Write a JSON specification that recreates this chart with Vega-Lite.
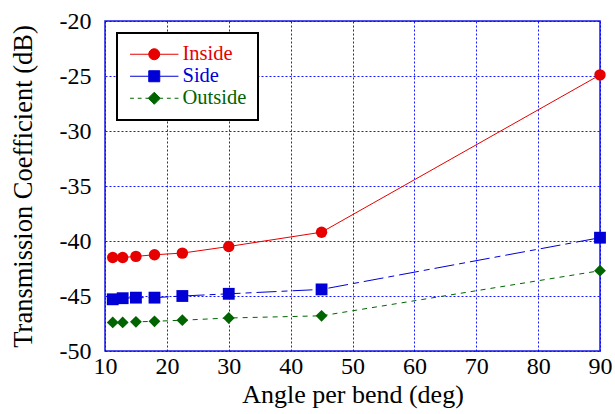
{
  "$schema": "https://vega.github.io/schema/vega-lite/v6.json",
  "width": 495,
  "height": 330,
  "autosize": {"type": "none"},
  "padding": {"left": 105, "top": 21, "right": 15, "bottom": 63},
  "background": "white",
  "data": {
    "values": [
      {"series": "Inside", "angle": 11.25, "value": -41.5},
      {"series": "Inside", "angle": 12.857, "value": -41.5},
      {"series": "Inside", "angle": 15, "value": -41.4},
      {"series": "Inside", "angle": 18, "value": -41.25},
      {"series": "Inside", "angle": 22.5, "value": -41.1},
      {"series": "Inside", "angle": 30, "value": -40.5},
      {"series": "Inside", "angle": 45, "value": -39.2},
      {"series": "Inside", "angle": 90, "value": -24.9},
      {"series": "Side", "angle": 11.25, "value": -45.3},
      {"series": "Side", "angle": 12.857, "value": -45.2},
      {"series": "Side", "angle": 15, "value": -45.15},
      {"series": "Side", "angle": 18, "value": -45.15},
      {"series": "Side", "angle": 22.5, "value": -45.0},
      {"series": "Side", "angle": 30, "value": -44.8},
      {"series": "Side", "angle": 45, "value": -44.4},
      {"series": "Side", "angle": 90, "value": -39.7},
      {"series": "Outside", "angle": 11.25, "value": -47.4},
      {"series": "Outside", "angle": 12.857, "value": -47.4},
      {"series": "Outside", "angle": 15, "value": -47.35},
      {"series": "Outside", "angle": 18, "value": -47.3},
      {"series": "Outside", "angle": 22.5, "value": -47.2},
      {"series": "Outside", "angle": 30, "value": -47.0},
      {"series": "Outside", "angle": 45, "value": -46.8},
      {"series": "Outside", "angle": 90, "value": -42.7}
    ]
  },
  "encoding": {
    "x": {
      "field": "angle",
      "type": "quantitative",
      "scale": {"domain": [10, 90], "nice": false, "zero": false},
      "axis": {
        "title": "Angle per bend (deg)",
        "values": [10, 20, 30, 40, 50, 60, 70, 80, 90],
        "labelFlush": false,
        "labelFont": "Liberation Serif",
        "labelFontSize": 24,
        "labelPadding": 3,
        "titleFont": "Liberation Serif",
        "titleFontSize": 26,
        "titlePadding": 3
      }
    },
    "y": {
      "field": "value",
      "type": "quantitative",
      "scale": {"domain": [-50, -20], "nice": false, "zero": false},
      "axis": {
        "title": "Transmission Coefficient (dB)",
        "values": [-50, -45, -40, -35, -30, -25, -20],
        "labelExpr": "'' + datum.value",
        "labelFlush": false,
        "labelFont": "Liberation Serif",
        "labelFontSize": 24,
        "labelPadding": 14,
        "titleFont": "Liberation Serif",
        "titleFontSize": 26.5,
        "titlePadding": 22
      }
    }
  },
  "layer": [
    {
      "transform": [{"filter": "datum.series === 'Inside'"}],
      "mark": {"type": "line", "stroke": "#e60000", "strokeWidth": 1}
    },
    {
      "transform": [{"filter": "datum.series === 'Side'"}],
      "mark": {"type": "line", "stroke": "#0000d6", "strokeWidth": 1, "strokeDash": [20, 5, 6, 5]}
    },
    {
      "transform": [{"filter": "datum.series === 'Outside'"}],
      "mark": {"type": "line", "stroke": "#006400", "strokeWidth": 1, "strokeDash": [5, 5]}
    },
    {
      "transform": [{"filter": "datum.series === 'Inside'"}],
      "mark": {"type": "point", "shape": "circle", "filled": true, "opacity": 1, "size": 130, "color": "#e60000"}
    },
    {
      "transform": [{"filter": "datum.series === 'Side'"}],
      "mark": {"type": "point", "shape": "square", "filled": true, "opacity": 1, "size": 140, "color": "#0000d6"}
    },
    {
      "transform": [{"filter": "datum.series === 'Outside'"}],
      "mark": {"type": "point", "shape": "diamond", "filled": true, "opacity": 1, "size": 140, "color": "#006400"}
    },
    {
      "description": "Key: a line sample with its marker for each series; the layer holds no rows of its own, the entries come from the fixed scale domains.",
      "transform": [{"filter": "datum.angle < 0"}],
      "mark": {"type": "point", "filled": true, "opacity": 1},
      "encoding": {
        "shape": {
          "field": "series",
          "type": "nominal",
          "scale": {
            "domain": ["Inside", "Side", "Outside"],
            "range": [
              "M-4.4,0H4.4M1,0A1,1,0,1,1,-1,0A1,1,0,1,1,1,0Z",
              "M-4.4,0H4.4M-1,-1H1V1H-1Z",
              "M-4.4,0H-3.7M-3,0H-2.3M-1.6,0H-1.1M0,-1.1L1.1,0L0,1.1L-1.1,0ZM1.1,0H1.6M2.3,0H3M3.7,0H4.4"
            ]
          }
        },
        "fill": {
          "field": "series",
          "type": "nominal",
          "scale": {"domain": ["Inside", "Side", "Outside"], "range": ["#e60000", "#0000d6", "#006400"]}
        },
        "stroke": {
          "field": "series",
          "type": "nominal",
          "scale": {"domain": ["Inside", "Side", "Outside"], "range": ["#e60000", "#0000d6", "#006400"]},
          "legend": {
            "title": null,
            "orient": "none",
            "legendX": 12,
            "legendY": 12,
            "padding": 11,
            "fillColor": "white",
            "strokeColor": "black",
            "symbolSize": 121,
            "symbolStrokeWidth": 1,
            "symbolOffset": 16,
            "labelOffset": 18,
            "labelFont": "Liberation Serif",
            "labelFontSize": 20.5,
            "rowPadding": 1,
            "encoding": {
              "legend": {"strokeWidth": {"value": 2}},
              "labels": {
                "fill": {"value": {"expr": "datum.value === 'Inside' ? '#e60000' : datum.value === 'Side' ? '#0000d6' : '#006400'"}}
              }
            }
          }
        }
      }
    }
  ],
  "config": {
    "font": "Liberation Serif",
    "view": {"stroke": "#1a1ae6", "strokeWidth": 1.5},
    "axis": {
      "grid": true,
      "gridColor": "#0000ff",
      "gridDash": [2, 2],
      "gridWidth": 1,
      "gridOpacity": 0.9,
      "domain": false,
      "ticks": false,
      "labelColor": "black",
      "titleFontWeight": "normal",
      "titleColor": "black"
    }
  }
}
